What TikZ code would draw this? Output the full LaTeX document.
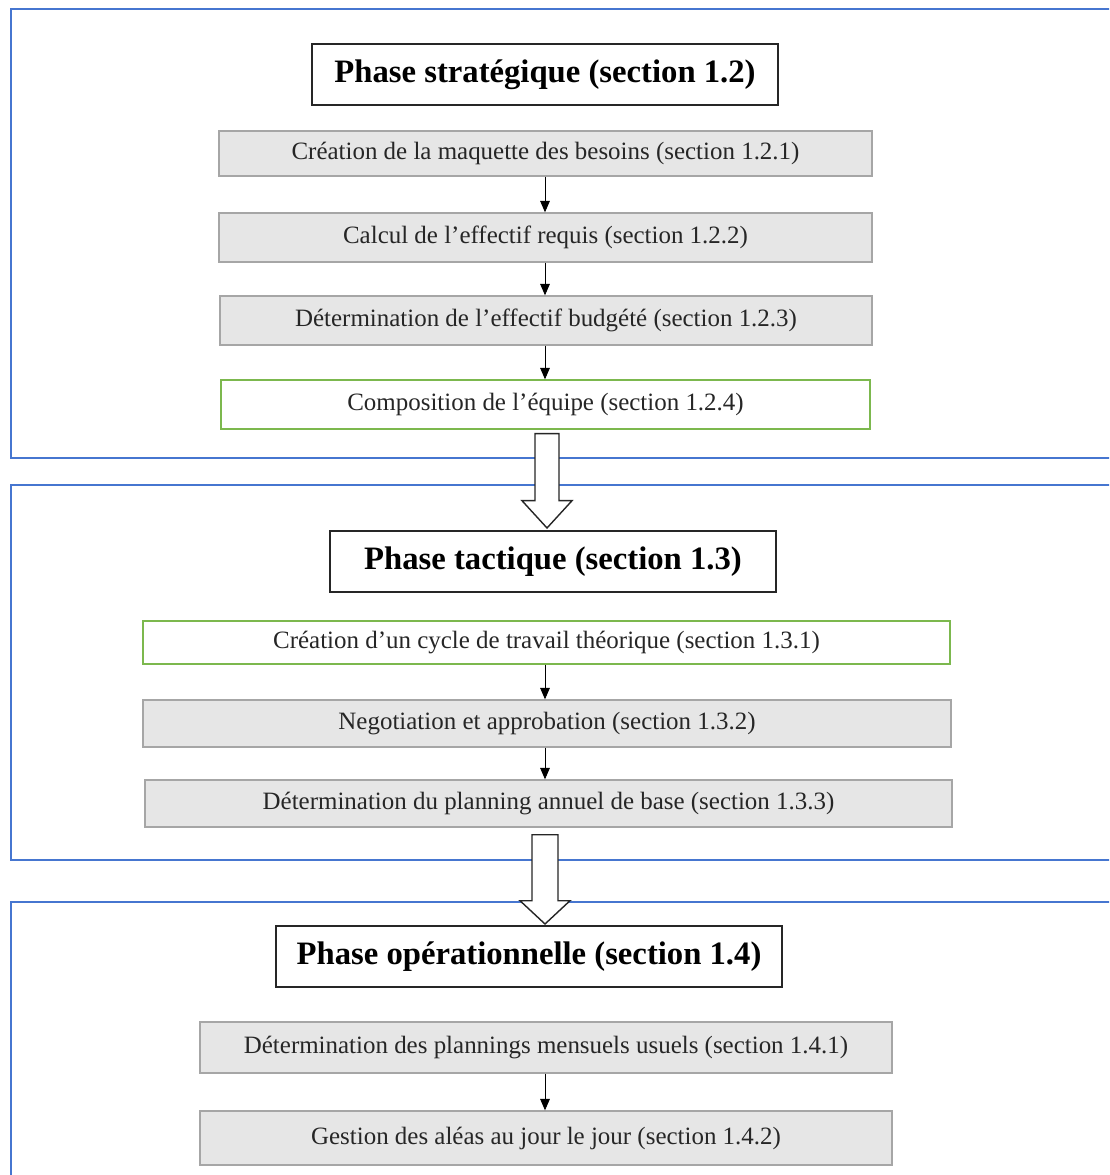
\documentclass[tikz,border=0pt]{standalone}
\usepackage{fontspec}
\setmainfont{Liberation Serif}
\usepackage{tikz}
\usetikzlibrary{arrows.meta,positioning,calc}

\definecolor{frameblue}{HTML}{4676D0}
\definecolor{boxgray}{HTML}{E6E6E6}
\definecolor{linegray}{HTML}{A6A6A6}
\definecolor{boxgreen}{HTML}{7CB84E}

\begin{document}
\begin{tikzpicture}[x=0.02cm, y=-0.02cm,
    phaseframe/.style={draw=frameblue, line width=1.3pt},
    phasetitle/.style={draw=black!85, line width=0.9pt, fill=white, inner sep=0pt,
        minimum height=1.22cm, font=\fontsize{18.6}{21}\selectfont\bfseries},
    stepbox/.style={draw=linegray, line width=0.8pt, fill=boxgray, inner sep=0pt,
        font=\fontsize{14.2}{16}\selectfont, text=black!85},
    keybox/.style={stepbox, draw=boxgreen, fill=white},
    smallarrow/.style={-{Triangle[width=5.5pt,length=6.5pt]}, line width=0.5pt},
    bigarrow/.style={draw=black!85, line width=0.8pt, fill=white}]
    \useasboundingbox (0,0) rectangle (1109,1175);
    \clip (0,0) rectangle (1109,1175);

    % Frames
    \draw[phaseframe] (11,9) rectangle (1130,458);
    \draw[phaseframe] (11,485) rectangle (1130,860);
    \draw[phaseframe] (11,902) rectangle (1130,1200);

    % Strategic phase
    \node[phasetitle, minimum width=9.32cm] (T1) at (545,74.5) {Phase stratégique (section 1.2)};
    \node[stepbox, minimum width=13.06cm, minimum height=0.9cm] (B1) at (545.5,153.5) {Création de la maquette des besoins (section 1.2.1)};
    \node[stepbox, minimum width=13.06cm, minimum height=0.98cm] (B2) at (545.5,237.5) {Calcul de l’effectif requis (section 1.2.2)};
    \node[stepbox, minimum width=13.04cm, minimum height=0.98cm] (B3) at (546,320.5) {Détermination de l’effectif budgété (section 1.2.3)};
    \node[keybox, minimum width=12.98cm, minimum height=0.98cm] (B4) at (545.5,404.5) {Composition de l’équipe (section 1.2.4)};

    % Tactical phase
    \node[phasetitle, minimum width=8.92cm] (T2) at (553,561.5) {Phase tactique (section 1.3)};
    \node[keybox, minimum width=16.14cm, minimum height=0.86cm] (C1) at (546.5,642.5) {Création d’un cycle de travail théorique (section 1.3.1)};
    \node[stepbox, minimum width=16.16cm, minimum height=0.94cm] (C2) at (547,723.5) {Negotiation et approbation (section 1.3.2)};
    \node[stepbox, minimum width=16.14cm, minimum height=0.94cm] (C3) at (548.5,803.5) {Détermination du planning annuel de base (section 1.3.3)};

    % Operational phase
    \node[phasetitle, minimum width=10.12cm] (T3) at (529,956.5) {Phase opérationnelle (section 1.4)};
    \node[stepbox, minimum width=13.84cm, minimum height=1.02cm] (D1) at (546,1047.5) {Détermination des plannings mensuels usuels (section 1.4.1)};
    \node[stepbox, minimum width=13.84cm, minimum height=1.08cm] (D2) at (546,1138) {Gestion des aléas au jour le jour (section 1.4.2)};

    % Small arrows
    \foreach \a/\b in {B1/B2, B2/B3, B3/B4, C1/C2, C2/C3, D1/D2}
        \draw[smallarrow] (\a.south -| 545,0) -- (\b.north -| 545,0);

    % Big arrows between phases
    \coordinate (tip1) at (547,528);
    \coordinate (tip2) at (545,924);
    \draw[bigarrow] ($(B4.south -| tip1)+(-12,4)$) -- ++(0,67) -- ++(-13,0) -- (tip1)
        -- ($(B4.south -| tip1)+(25,71)$) -- ++(-13,0) -- ++(0,-67) -- cycle;
    \draw[bigarrow] ($(C3.south -| tip2)+(-13,7)$) -- ++(0,66) -- ++(-12,0) -- (tip2)
        -- ($(C3.south -| tip2)+(25,73)$) -- ++(-12,0) -- ++(0,-66) -- cycle;
\end{tikzpicture}
\end{document}
